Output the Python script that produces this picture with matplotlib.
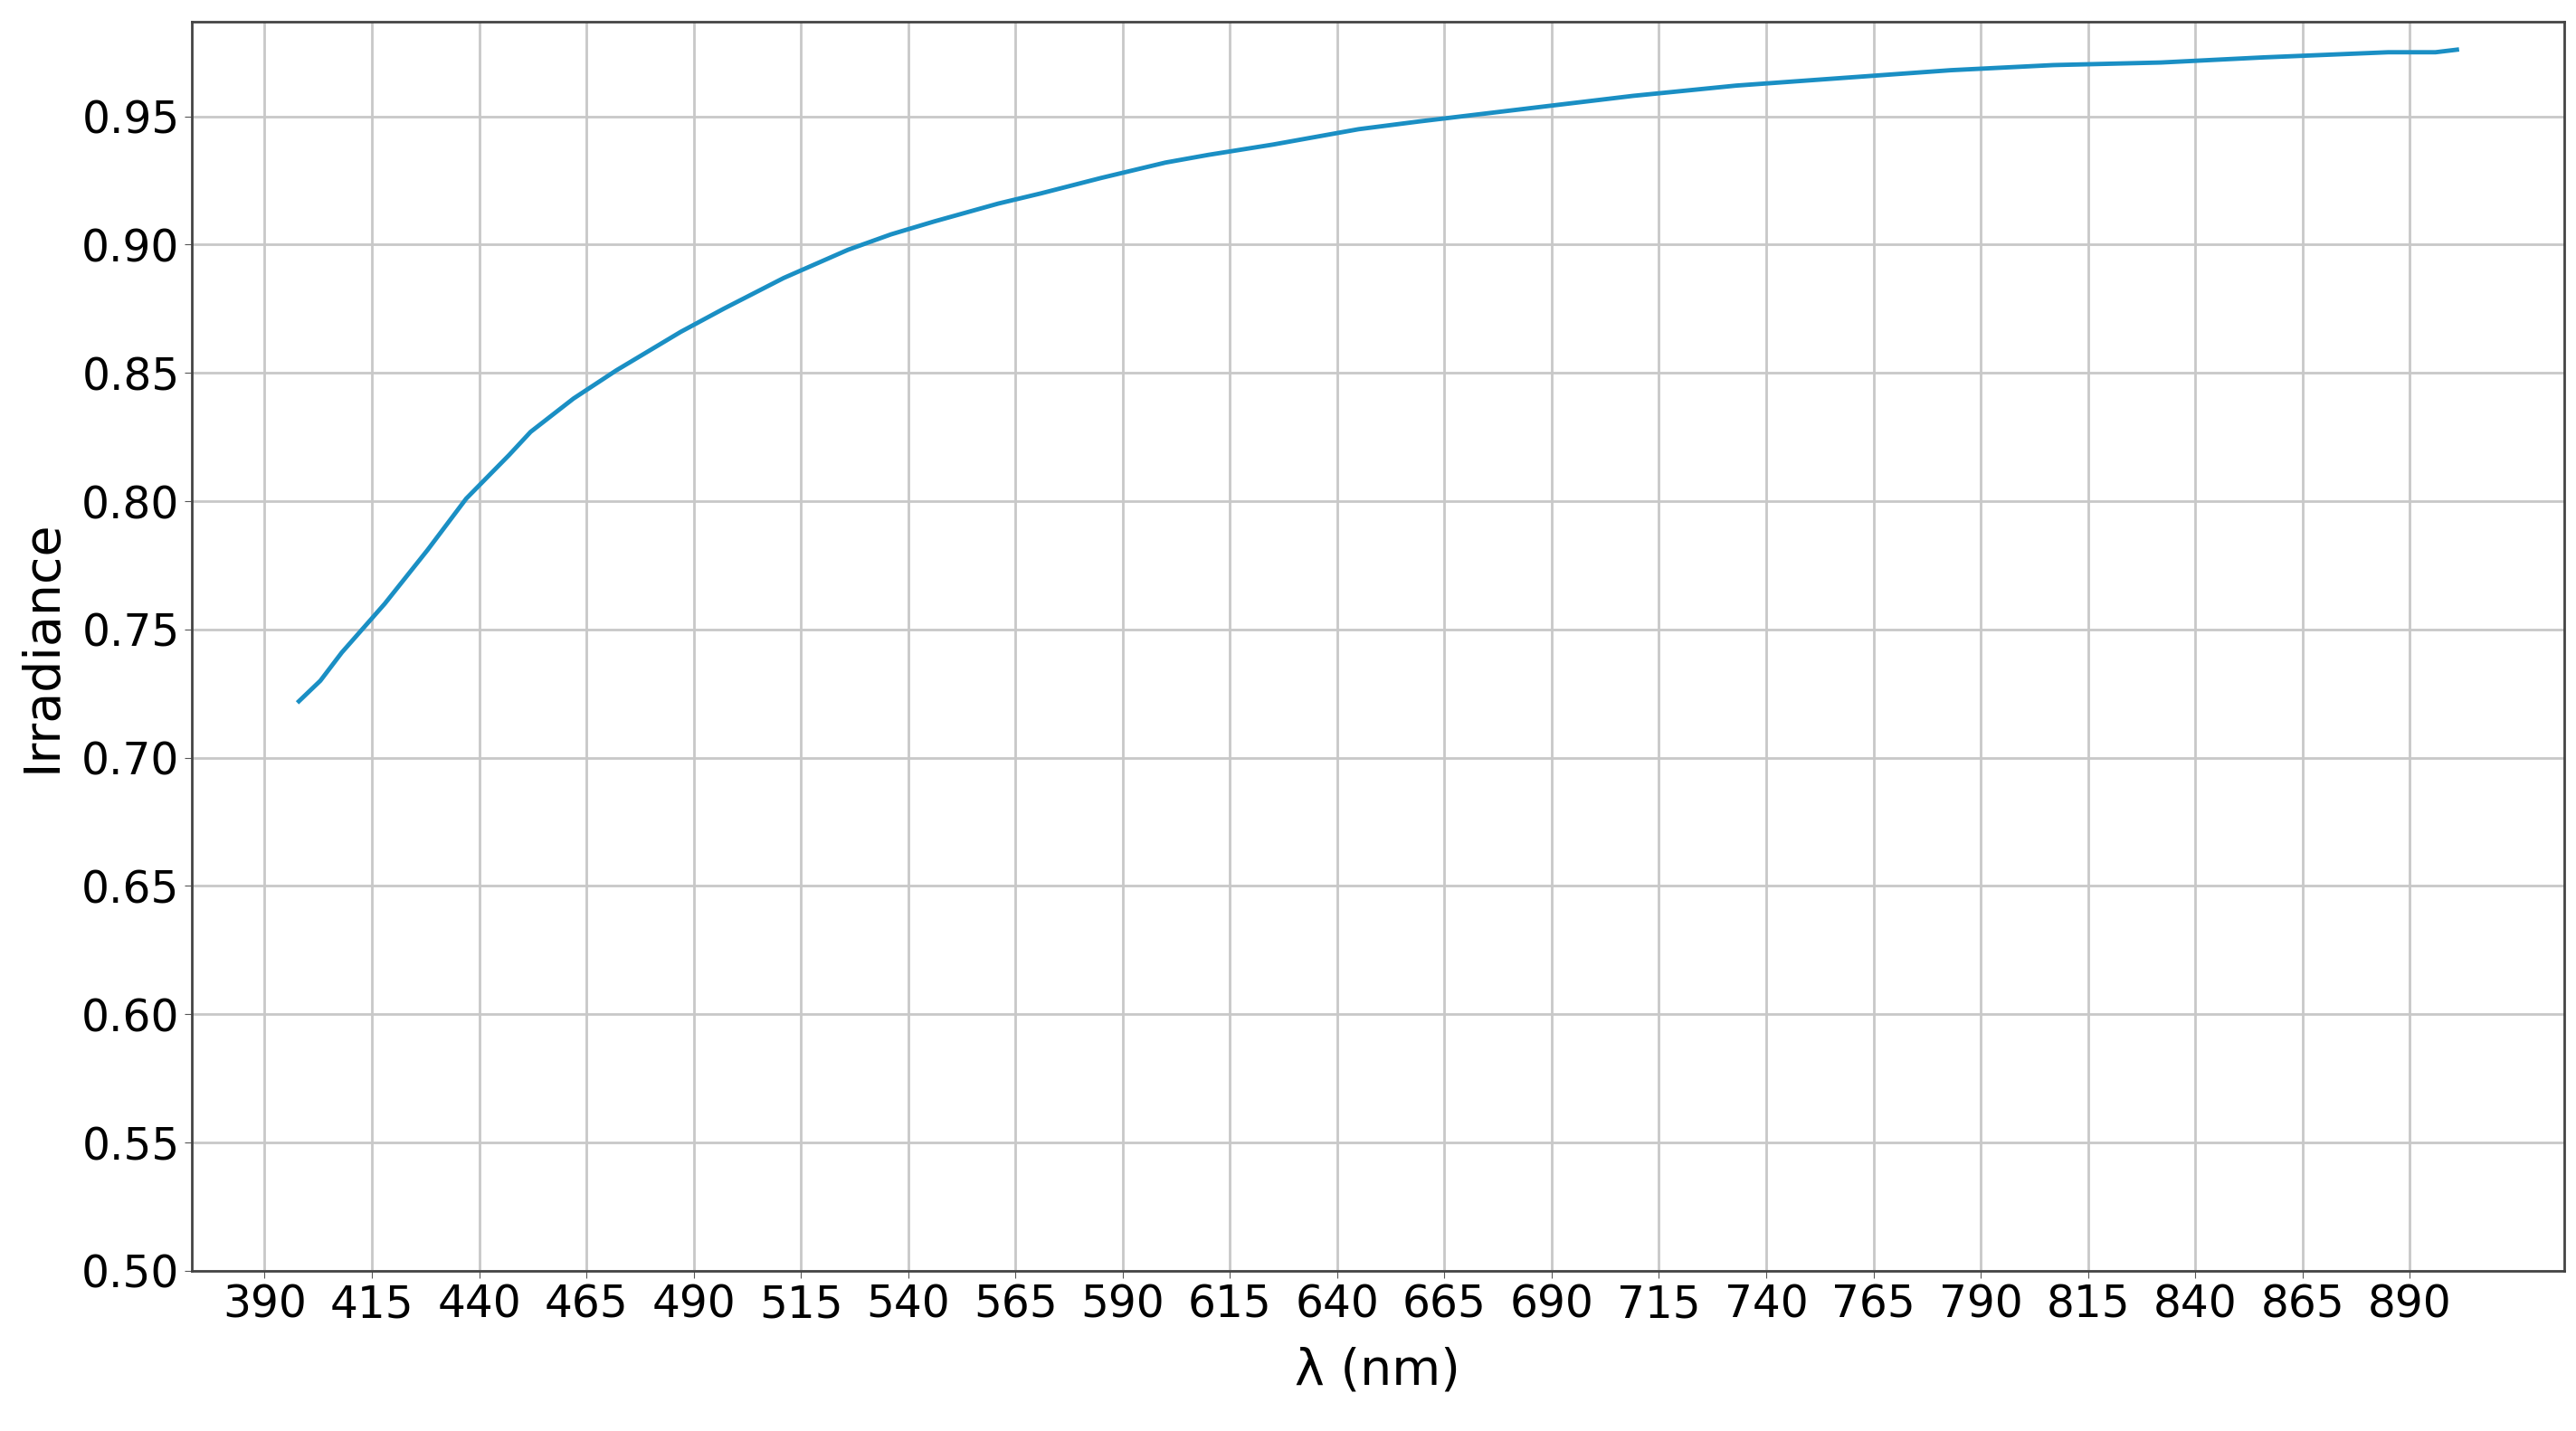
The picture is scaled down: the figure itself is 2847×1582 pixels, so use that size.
import numpy as np
import matplotlib.pyplot as plt

# wavelength (nm) and irradiance
wavelength = [398, 403, 408, 418, 428, 437, 447, 452, 462, 472, 487, 497, 511, 526, 536,
              546, 561, 571, 585, 600, 610, 625, 635, 645, 659, 684, 709, 733, 758, 783,
              807, 832, 856, 885, 896, 901]
irradiance = [0.722, 0.730, 0.741, 0.760, 0.781, 0.801, 0.818, 0.827, 0.840, 0.851, 0.866,
              0.875, 0.887, 0.898, 0.904, 0.909, 0.916, 0.920, 0.926, 0.932, 0.935, 0.939,
              0.942, 0.945, 0.948, 0.953, 0.958, 0.962, 0.965, 0.968, 0.970, 0.971, 0.973,
              0.975, 0.975, 0.976]

x_ticks = np.arange(390, 891, 25)
y_ticks = np.arange(0.50, 0.951, 0.05)

plt.rcParams['font.family'] = ['DejaVu Sans']

fig = plt.figure(figsize=(28.47, 15.82), dpi=100)
ax = fig.add_axes([0.0744, 0.112, 0.921, 0.873])

ax.plot(wavelength, irradiance, color='#1a8fc4', linewidth=3.5)

ax.set_xlim(373, 926)
ax.set_ylim(0.50, 0.987)
ax.set_xticks(x_ticks)
ax.set_yticks(y_ticks)
ax.set_yticklabels([f'{v:.2f}' for v in y_ticks])
ax.tick_params(labelsize=35, length=6, color='#555555')

ax.grid(True, color='#c8c8c8', linewidth=2)
ax.set_axisbelow(True)
for s in ax.spines.values():
    s.set_color('#444444')
    s.set_linewidth(2)

ax.set_xlabel('λ (nm)', fontsize=40, labelpad=16)
ax.set_ylabel('Irradiance', fontsize=40, labelpad=12)

fig.savefig('out.png', dpi=100)
